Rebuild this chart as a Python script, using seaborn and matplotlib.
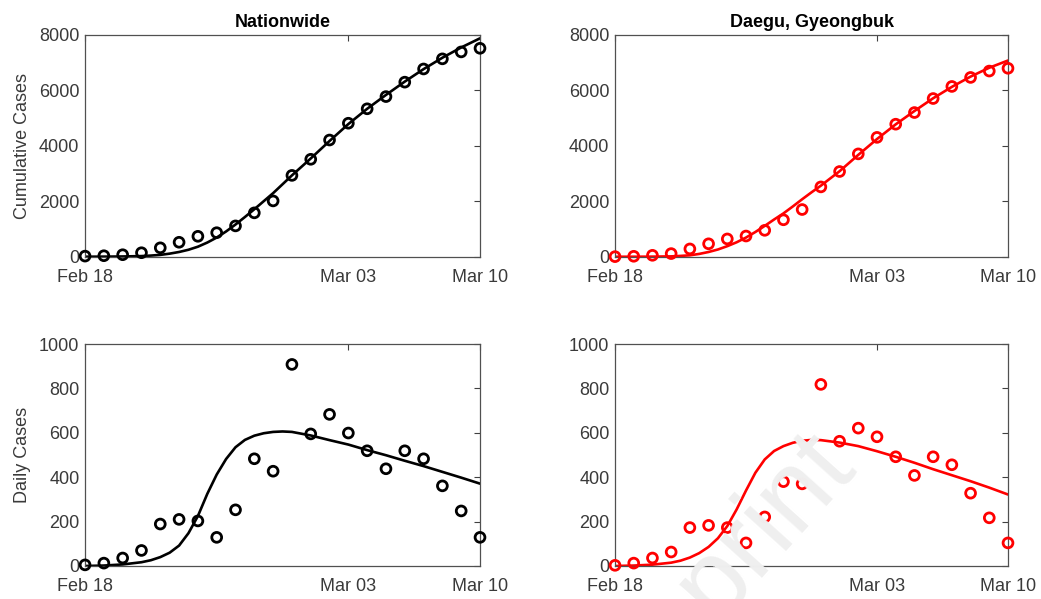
import numpy as np
import pandas as pd
import seaborn as sns
from matplotlib import pyplot as plt

# data
days = list(range(22))  # Feb 18 .. Mar 10
start = pd.Timestamp("2020-02-18")

nation_cum = [31, 45, 81, 153, 330, 530, 745, 875, 1120, 1590, 2020, 2940,
              3520, 4215, 4820, 5340, 5780, 6300, 6775, 7140, 7390, 7520]
nation_daily = [5, 13, 36, 70, 189, 210, 203, 129, 253, 483, 427, 908,
                595, 683, 599, 519, 438, 519, 483, 361, 248, 129]
daegu_cum = [12, 25, 60, 122, 290, 475, 650, 755, 960, 1340, 1710, 2525,
             3080, 3715, 4310, 4785, 5205, 5710, 6145, 6470, 6700, 6800]
daegu_daily = [3, 13, 36, 63, 173, 183, 173, 104, 221, 380, 370, 818,
               562, 621, 582, 492, 408, 492, 456, 328, 217, 104]

# fitted model curves (read at half days early on, whole days later)
curve_days = [0, 1, 2, 3, 3.5, 4, 4.5, 5, 5.5, 6, 6.5, 7, 7.5, 8, 8.5, 9, 9.5,
              10, 10.5, 11, 12, 13, 14, 15, 16, 17, 18, 19, 20, 21]
nation_cum_fit = [10, 12, 18, 32, 50, 75, 120, 180, 260, 370, 520, 700, 920,
                  1170, 1440, 1720, 2010, 2300, 2620, 2940, 3550, 4180, 4790,
                  5340, 5840, 6320, 6770, 7180, 7550, 7880]
nation_daily_fit = [0, 2, 7, 17, 26, 40, 60, 92, 148, 225, 325, 412, 482, 535,
                    568, 587, 598, 604, 606, 604, 588, 567, 547, 522, 499, 474,
                    450, 424, 398, 371]
daegu_cum_fit = [8, 9, 12, 22, 38, 60, 110, 180, 270, 390, 530, 700, 900,
                 1120, 1350, 1570, 1820, 2080, 2330, 2570, 3090, 3680, 4250,
                 4780, 5260, 5720, 6130, 6500, 6820, 7080]
daegu_daily_fit = [0, 2, 6, 15, 24, 38, 58, 86, 125, 180, 255, 340, 420, 480,
                   518, 540, 555, 564, 568, 567, 556, 540, 517, 492, 465, 436,
                   409, 382, 353, 322]

tick_dates = ["2020-02-18", "2020-03-03", "2020-03-10"]
tick_labels = ["Feb 18", "Mar 03", "Mar 10"]

dates = start + pd.to_timedelta(days, unit="D")
curve_dates = start + pd.to_timedelta(curve_days, unit="D")

sns.set_style("white")
plt.rcParams['font.family'] = ['Liberation Sans', 'DejaVu Sans']

fig = plt.figure(figsize=(10.41, 5.99), dpi=100)
boxes = [[0.0817, 0.571, 0.3794, 0.3706], [0.5908, 0.571, 0.3775, 0.3706],
         [0.0817, 0.0551, 0.3794, 0.3706], [0.5908, 0.0551, 0.3775, 0.3706]]

panels = [
    (nation_cum, nation_cum_fit, "k", 8000, 2000, "Nationwide", "Cumulative Cases"),
    (daegu_cum, daegu_cum_fit, "#ff0000", 8000, 2000, "Daegu, Gyeongbuk", None),
    (nation_daily, nation_daily_fit, "k", 1000, 200, None, "Daily Cases"),
    (daegu_daily, daegu_daily_fit, "#ff0000", 1000, 200, None, None),
]

# faint preprint watermark, behind the plots
fig.text(0.68, 0.02, "Preprint", fontsize=78, color="#efefef", rotation=48,
         ha="center", va="center", zorder=0)

for box, (pts, fit, col, ymax, ystep, title, ylabel) in zip(boxes, panels):
    ax = fig.add_axes(box)
    ax.set_facecolor("none")
    sns.lineplot(x=curve_dates, y=fit, ax=ax, color=col, linewidth=1.9)
    sns.scatterplot(x=dates, y=pts, ax=ax, marker="o", s=50,
                    facecolor="none", edgecolor=col, linewidth=2.0, zorder=3,
                    clip_on=False)
    ax.set_xlim(pd.Timestamp(tick_dates[0]), pd.Timestamp(tick_dates[-1]))
    ax.set_ylim(0, ymax)
    ax.set_xticks(pd.to_datetime(tick_dates))
    ax.set_xticklabels(tick_labels)
    ax.set_yticks(np.arange(0, ymax + 1, ystep))
    ax.tick_params(direction="in", length=4, width=0.8, color="#404040",
                   labelsize=13, labelcolor="#3a3a3a", top=True, right=True,
                   pad=4)
    ax.tick_params(axis="x", pad=9)
    for sp in ax.spines.values():
        sp.set_visible(True)
        sp.set_color("#505050")
        sp.set_linewidth(0.9)
    if title:
        ax.set_title(title, fontsize=13, fontweight="bold", color="k", pad=6)
    if ylabel:
        ax.set_ylabel(ylabel, fontsize=13, color="#3a3a3a", labelpad=6)
    else:
        ax.set_ylabel("")
    ax.set_xlabel("")

plt.savefig("out.png", dpi=100)
plt.close()
